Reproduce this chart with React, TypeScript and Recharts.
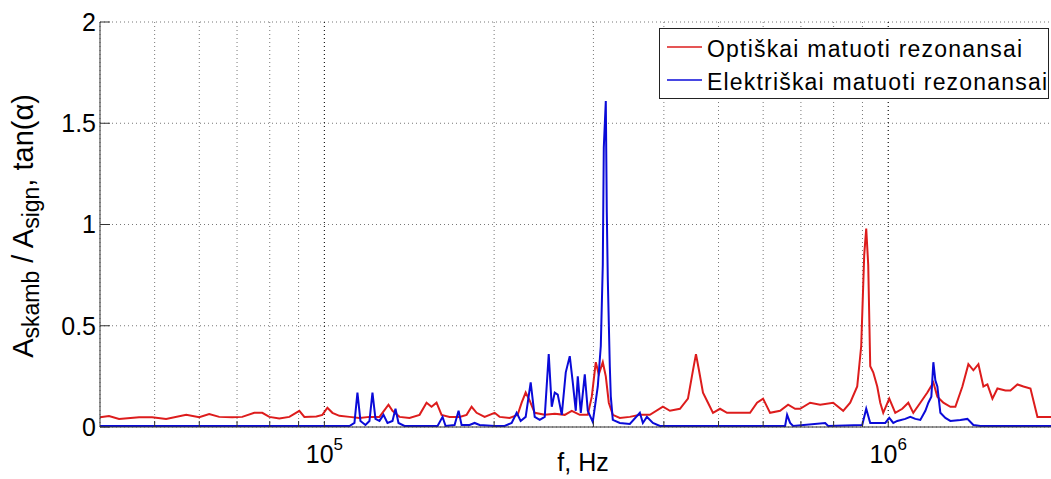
import { LineChart, Line, XAxis, YAxis, CartesianGrid, Legend, ReferenceLine, Label } from 'recharts';

// optically measured resonances (Hz, ratio)
const opticalFreq = [
  40000, 41500, 43240, 46920, 49480, 52400, 56880, 59980, 62480, 65090, 68640, 71500, 75110, 77600,
  79860, 83190, 86660, 90280, 92150, 96780, 99190, 101240, 103330, 106320, 110770, 115390, 120210,
  125220, 129920, 132060, 135900, 141570, 147480, 151760, 154890, 158090, 161360, 166720, 173680,
  178730, 182420, 186180, 192380, 200400, 204540, 213080, 220170, 223800, 227500, 231250, 236050,
  245900, 256180, 266870, 274610, 283740, 293180, 298000, 302910, 306650, 311700, 315550, 319450,
  324720, 334150, 348100, 362640, 377790, 398410, 410000, 427130, 441340, 450460, 456020, 461650,
  469270, 478960, 488860, 503060, 517660, 545920, 568720, 585230, 599770, 617180, 642940, 664320,
  683610, 697740, 726860, 757210, 798550, 831890, 856060, 880920, 895450, 906500, 913940, 921460,
  929030, 940500, 956010, 967810, 979760, 1004110, 1029030, 1058930, 1085230, 1107660, 1139900,
  1173100, 1202200, 1222000, 1252300, 1288700, 1315300, 1353500, 1387100, 1415700, 1445000, 1474800,
  1499200, 1530200, 1561800, 1613600, 1647000, 1694800, 1736800, 1787300, 1839100, 1900300, 2000000,
];
const opticalVal = [
  0.048, 0.054, 0.04, 0.048, 0.048, 0.04, 0.06, 0.048, 0.064, 0.05, 0.048, 0.05, 0.07, 0.07,
  0.05, 0.042, 0.05, 0.08, 0.05, 0.052, 0.06, 0.095, 0.07, 0.055, 0.05, 0.045, 0.05,
  0.05, 0.11, 0.08, 0.05, 0.045, 0.06, 0.12, 0.1, 0.12, 0.06, 0.05, 0.05,
  0.06, 0.1, 0.07, 0.05, 0.07, 0.05, 0.045, 0.06, 0.12, 0.17, 0.13, 0.07,
  0.06, 0.065, 0.06, 0.08, 0.06, 0.06, 0.15, 0.32, 0.26, 0.32, 0.25, 0.12,
  0.06, 0.045, 0.05, 0.06, 0.06, 0.1, 0.08, 0.09, 0.14, 0.28, 0.36, 0.28,
  0.17, 0.12, 0.07, 0.09, 0.07, 0.07, 0.07, 0.12, 0.14, 0.07, 0.08, 0.11,
  0.09, 0.09, 0.12, 0.11, 0.12, 0.08, 0.12, 0.2, 0.4, 0.85, 0.98, 0.8,
  0.3, 0.27, 0.2, 0.12, 0.07, 0.14, 0.07, 0.09, 0.12, 0.07, 0.12,
  0.17, 0.22, 0.15, 0.12, 0.1, 0.1, 0.2, 0.31, 0.28, 0.31, 0.2,
  0.21, 0.14, 0.19, 0.18, 0.18, 0.21, 0.2, 0.19, 0.05, 0.05, 0.05,
];

// electrically measured resonances (Hz, ratio)
const electricFreq = [
  40000, 110770, 113060, 114450, 115860, 118260, 120210, 121690, 123190, 125220, 127290, 129390,
  132060, 133690, 135340, 138700, 158740, 162020, 164030, 170170, 172970, 175110, 180930, 184670,
  188480, 200400, 208770, 214830, 219270, 222890, 227500, 232200, 236050, 240930, 245900, 249960,
  253050, 256180, 259340, 263620, 267960, 272380, 275740, 279140, 281440, 284910, 289600, 293180,
  299220, 305400, 309170, 311700, 312980, 315550, 316840, 318140, 320760, 322070, 324720, 334150,
  348100, 362640, 367120, 373180, 382450, 393560, 656220, 661610, 669780, 678050, 772850, 782390,
  899120, 913940, 929030, 987800, 1004110, 1020660, 1037490, 1072000, 1094150, 1116760, 1139900,
  1163600, 1177900, 1192400, 1202200, 1212100, 1222000, 1237100, 1262600, 1288700, 1342500,
  1381500, 1415700, 1456800, 2000000,
];
const electricVal = [
  0.005, 0.005, 0.02, 0.17, 0.03, 0.01, 0.03, 0.17, 0.04, 0.03, 0.06, 0.02,
  0.03, 0.09, 0.02, 0.005, 0.005, 0.05, 0.005, 0.01, 0.08, 0.01, 0.01, 0.02,
  0.01, 0.005, 0.005, 0.02, 0.07, 0.03, 0.05, 0.22, 0.05, 0.035, 0.05, 0.36,
  0.1, 0.17, 0.16, 0.06, 0.27, 0.35, 0.22, 0.08, 0.25, 0.07, 0.26, 0.08,
  0.025, 0.2, 0.4, 0.8, 1.38, 1.61, 1.06, 0.73, 0.3, 0.15, 0.035, 0.02,
  0.015, 0.07, 0.02, 0.05, 0.02, 0.005, 0.005, 0.06, 0.02, 0.005, 0.02, 0.005,
  0.01, 0.09, 0.02, 0.02, 0.045, 0.02, 0.03, 0.04, 0.05, 0.04, 0.035,
  0.08, 0.12, 0.15, 0.32, 0.23, 0.2, 0.07, 0.045, 0.03, 0.035,
  0.04, 0.01, 0.005, 0.005,
];

const seriesNames = ['Optiškai matuoti rezonansai', 'Elektriškai matuoti rezonansai'];

const xTicks = [
  50000, 60000, 70000, 80000, 90000, 100000, 200000, 300000, 400000, 500000, 600000, 700000,
  800000, 900000, 1000000, 2000000,
];
const majorTicks = [100000, 1000000];
const yTicks = [0, 0.5, 1, 1.5, 2];

const optical = opticalFreq.map((f, i) => ({ f, v: opticalVal[i] }));
const electric = electricFreq.map((f, i) => ({ f, v: electricVal[i] }));

const FONT = '"Liberation Sans", Arial, Helvetica, sans-serif';
const AXIS = '#333';

const PowerTick = (props: any) => {
  const { x, y, payload } = props;
  if (!majorTicks.includes(payload.value)) return <g />;
  const exp = Math.round(Math.log10(payload.value));
  return (
    <text x={x} y={y + 36} textAnchor="middle" fontSize={25} fill="#000">
      10
      <tspan dy={-13} fontSize={17}>
        {exp}
      </tspan>
    </text>
  );
};

const YTitle = () => (
  <text
    x={33}
    y={226}
    transform="rotate(-90, 33, 226)"
    textAnchor="middle"
    fontSize={29}
    fill="#000"
  >
    A
    <tspan dy={6} fontSize={23}>skamb</tspan>
    <tspan dy={-6}> / A</tspan>
    <tspan dy={6} fontSize={23}>sign</tspan>
    <tspan dy={-6}>, tan(α)</tspan>
  </text>
);

const XTitle = () => (
  <text x={583} y={471} textAnchor="middle" fontSize={25} fill="#000">
    f, Hz
  </text>
);

const renderLegend = (props: any) => {
  const { payload } = props;
  const lengths = [315, 340];
  const items = seriesNames
    .map((n) => payload.find((p: any) => p.value === n))
    .filter(Boolean);
  return (
    <svg width={390} height={71} style={{ display: 'block' }}>
      <rect x={0.5} y={0.5} width={389} height={70} fill="#fff" stroke="#222" />
      {items.map((p: any, i: number) => (
        <g key={p.value}>
          <line x1={8} x2={43} y1={19 + 33 * i} y2={19 + 33 * i} stroke={p.color} strokeWidth={1.5} />
          <text
            x={48}
            y={29 + 33 * i}
            fontSize={23}
            fill="#000"
            textLength={lengths[i]}
            lengthAdjust="spacing"
          >
            {p.value}
          </text>
        </g>
      ))}
    </svg>
  );
};

export default function App() {
  return (
    <div
      style={{
        position: 'absolute',
        left: 0,
        top: 0,
        width: 1051,
        height: 479,
        overflow: 'hidden',
        background: '#fff',
        fontFamily: FONT,
      }}
    >
      <LineChart width={1060} height={479} margin={{ top: 22, right: 2, bottom: 0, left: 40 }}>
        <CartesianGrid stroke="#777" strokeDasharray="1 3" />
        <XAxis
          dataKey="f"
          type="number"
          scale="log"
          domain={[40000, 2000000]}
          allowDataOverflow
          ticks={xTicks}
          interval={0}
          height={52}
          stroke={AXIS}
          tickSize={-6}
          tickMargin={6}
          tick={<PowerTick />}
        >
          <Label content={<XTitle />} />
        </XAxis>
        <XAxis
          xAxisId="top"
          orientation="top"
          type="number"
          scale="log"
          domain={[40000, 2000000]}
          allowDataOverflow
          ticks={xTicks}
          interval={0}
          height={0}
          stroke={AXIS}
          tickSize={-6}
          tick={false}
        />
        <YAxis
          type="number"
          domain={[0, 2]}
          ticks={yTicks}
          interval={0}
          width={60}
          stroke={AXIS}
          tickSize={-10}
          tickMargin={14}
          tick={{ fontSize: 25, fill: '#000' }}
        >
          <Label content={<YTitle />} />
        </YAxis>
        <YAxis
          yAxisId="right"
          orientation="right"
          type="number"
          domain={[0, 2]}
          ticks={yTicks}
          interval={0}
          width={0}
          stroke={AXIS}
          tickSize={-10}
          tick={false}
        />
        {majorTicks.map((t) => (
          <ReferenceLine key={t} x={t} stroke="#111" strokeDasharray="1 3" />
        ))}
        <Line
          data={optical}
          dataKey="v"
          name={seriesNames[0]}
          stroke="#dd1c1c"
          strokeWidth={2}
          dot={false}
          type="linear"
          isAnimationActive={false}
        />
        <Line
          data={electric}
          dataKey="v"
          name={seriesNames[1]}
          stroke="#0a0ad8"
          strokeWidth={2}
          dot={false}
          type="linear"
          isAnimationActive={false}
        />
        <Legend
          layout="horizontal"
          align="center"
          verticalAlign="middle"
          content={renderLegend}
          wrapperStyle={{ position: 'absolute', left: 659, top: 28, width: 390, height: 71 }}
        />
      </LineChart>
    </div>
  );
}
